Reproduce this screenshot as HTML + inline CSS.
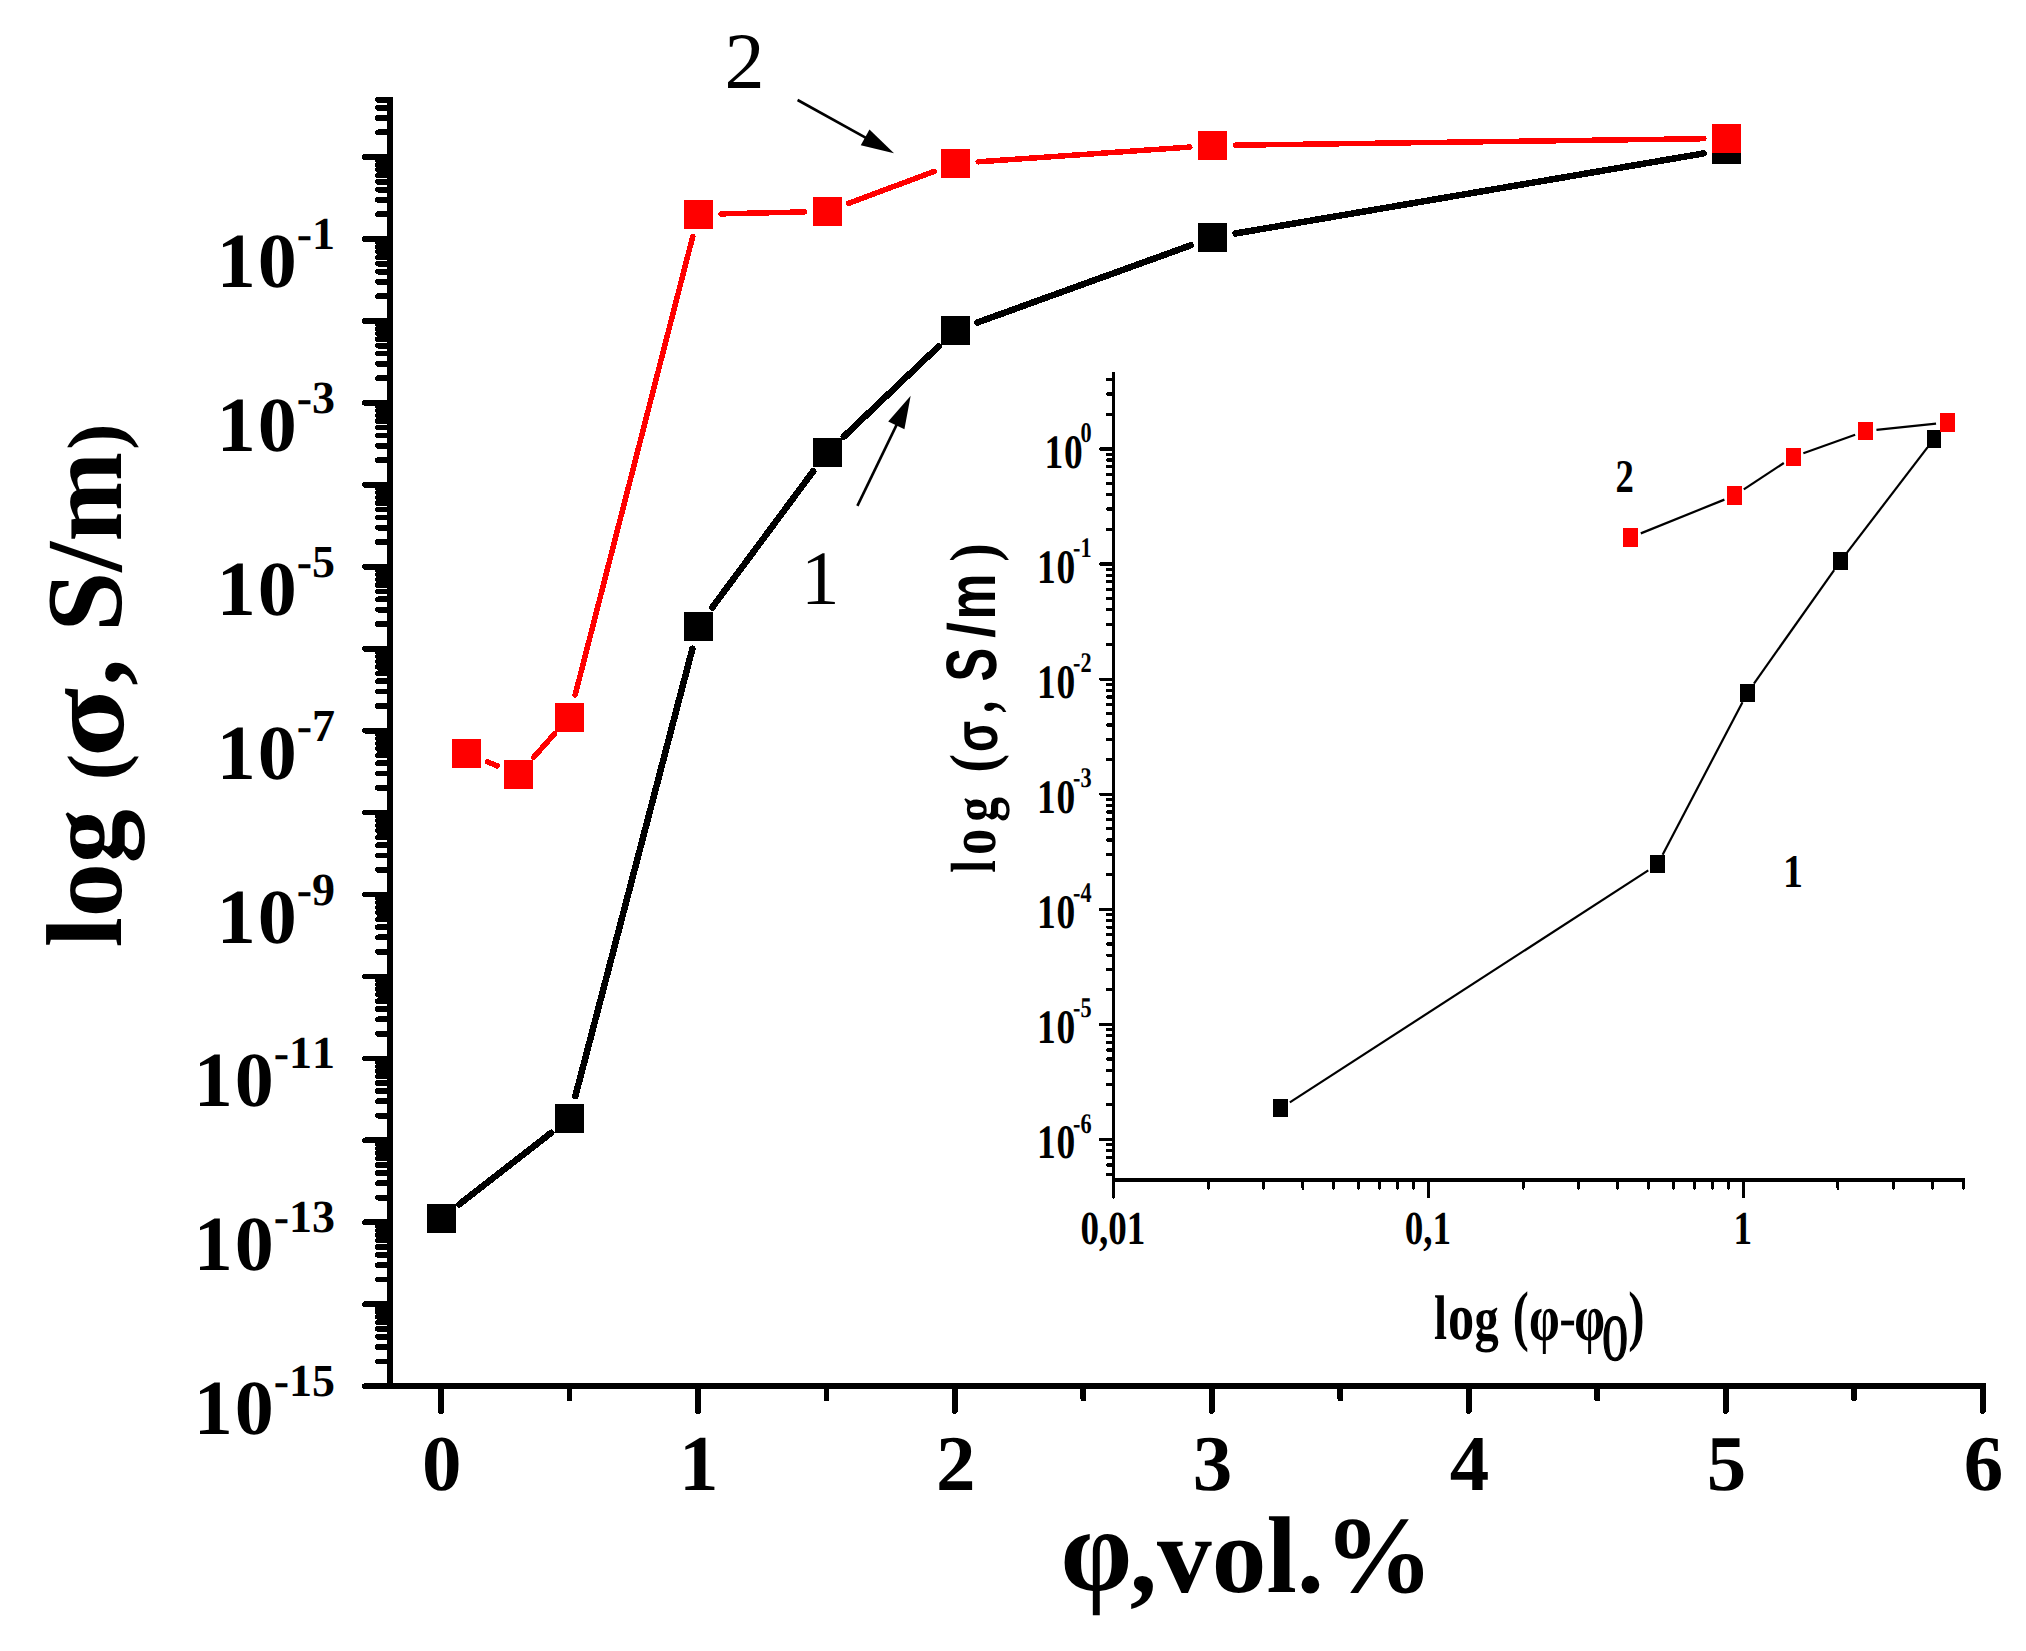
<!DOCTYPE html>
<html lang="en">
<head>
<meta charset="utf-8">
<title>Conductivity vs filler content</title>
<style>
html,body{margin:0;padding:0;background:#fff;}
body{width:2026px;height:1651px;overflow:hidden;}
svg{display:block;}
text{font-family:'Liberation Serif', 'DejaVu Serif', serif;fill:#000;font-kerning:none;}
.b{font-weight:bold;}
.sans{font-family:'Liberation Sans', 'DejaVu Sans', sans-serif;}
</style>
</head>
<body>
<svg width="2026" height="1651" viewBox="0 0 2026 1651" shape-rendering="crispEdges" text-rendering="geometricPrecision">
<rect x="0" y="0" width="2026" height="1651" fill="#fff"/>

<g id="main-axes" stroke="#000" fill="none">
<line x1="390.0" y1="96.79" x2="390.0" y2="1389.10" stroke-width="6.2"/>
<line x1="386.90" y1="1386.0" x2="1985.5" y2="1386.0" stroke-width="6.2"/>
<g stroke-width="5.8" stroke-linecap="round">
<line x1="390.0" y1="1386.16" x2="365.0" y2="1386.16"/>
<line x1="390.0" y1="1361.49" x2="378.0" y2="1361.49"/>
<line x1="390.0" y1="1347.06" x2="378.0" y2="1347.06"/>
<line x1="390.0" y1="1336.83" x2="378.0" y2="1336.83"/>
<line x1="390.0" y1="1328.89" x2="378.0" y2="1328.89"/>
<line x1="390.0" y1="1322.40" x2="378.0" y2="1322.40"/>
<line x1="390.0" y1="1316.91" x2="378.0" y2="1316.91"/>
<line x1="390.0" y1="1312.16" x2="378.0" y2="1312.16"/>
<line x1="390.0" y1="1307.97" x2="378.0" y2="1307.97"/>
<line x1="390.0" y1="1304.22" x2="365.0" y2="1304.22"/>
<line x1="390.0" y1="1279.55" x2="378.0" y2="1279.55"/>
<line x1="390.0" y1="1265.12" x2="378.0" y2="1265.12"/>
<line x1="390.0" y1="1254.89" x2="378.0" y2="1254.89"/>
<line x1="390.0" y1="1246.95" x2="378.0" y2="1246.95"/>
<line x1="390.0" y1="1240.46" x2="378.0" y2="1240.46"/>
<line x1="390.0" y1="1234.97" x2="378.0" y2="1234.97"/>
<line x1="390.0" y1="1230.22" x2="378.0" y2="1230.22"/>
<line x1="390.0" y1="1226.03" x2="378.0" y2="1226.03"/>
<line x1="390.0" y1="1222.28" x2="365.0" y2="1222.28"/>
<line x1="390.0" y1="1197.61" x2="378.0" y2="1197.61"/>
<line x1="390.0" y1="1183.18" x2="378.0" y2="1183.18"/>
<line x1="390.0" y1="1172.95" x2="378.0" y2="1172.95"/>
<line x1="390.0" y1="1165.01" x2="378.0" y2="1165.01"/>
<line x1="390.0" y1="1158.52" x2="378.0" y2="1158.52"/>
<line x1="390.0" y1="1153.03" x2="378.0" y2="1153.03"/>
<line x1="390.0" y1="1148.28" x2="378.0" y2="1148.28"/>
<line x1="390.0" y1="1144.09" x2="378.0" y2="1144.09"/>
<line x1="390.0" y1="1140.34" x2="365.0" y2="1140.34"/>
<line x1="390.0" y1="1115.67" x2="378.0" y2="1115.67"/>
<line x1="390.0" y1="1101.24" x2="378.0" y2="1101.24"/>
<line x1="390.0" y1="1091.01" x2="378.0" y2="1091.01"/>
<line x1="390.0" y1="1083.07" x2="378.0" y2="1083.07"/>
<line x1="390.0" y1="1076.58" x2="378.0" y2="1076.58"/>
<line x1="390.0" y1="1071.09" x2="378.0" y2="1071.09"/>
<line x1="390.0" y1="1066.34" x2="378.0" y2="1066.34"/>
<line x1="390.0" y1="1062.15" x2="378.0" y2="1062.15"/>
<line x1="390.0" y1="1058.40" x2="365.0" y2="1058.40"/>
<line x1="390.0" y1="1033.73" x2="378.0" y2="1033.73"/>
<line x1="390.0" y1="1019.30" x2="378.0" y2="1019.30"/>
<line x1="390.0" y1="1009.07" x2="378.0" y2="1009.07"/>
<line x1="390.0" y1="1001.13" x2="378.0" y2="1001.13"/>
<line x1="390.0" y1="994.64" x2="378.0" y2="994.64"/>
<line x1="390.0" y1="989.15" x2="378.0" y2="989.15"/>
<line x1="390.0" y1="984.40" x2="378.0" y2="984.40"/>
<line x1="390.0" y1="980.21" x2="378.0" y2="980.21"/>
<line x1="390.0" y1="976.46" x2="365.0" y2="976.46"/>
<line x1="390.0" y1="951.79" x2="378.0" y2="951.79"/>
<line x1="390.0" y1="937.36" x2="378.0" y2="937.36"/>
<line x1="390.0" y1="927.13" x2="378.0" y2="927.13"/>
<line x1="390.0" y1="919.19" x2="378.0" y2="919.19"/>
<line x1="390.0" y1="912.70" x2="378.0" y2="912.70"/>
<line x1="390.0" y1="907.21" x2="378.0" y2="907.21"/>
<line x1="390.0" y1="902.46" x2="378.0" y2="902.46"/>
<line x1="390.0" y1="898.27" x2="378.0" y2="898.27"/>
<line x1="390.0" y1="894.52" x2="365.0" y2="894.52"/>
<line x1="390.0" y1="869.85" x2="378.0" y2="869.85"/>
<line x1="390.0" y1="855.42" x2="378.0" y2="855.42"/>
<line x1="390.0" y1="845.19" x2="378.0" y2="845.19"/>
<line x1="390.0" y1="837.25" x2="378.0" y2="837.25"/>
<line x1="390.0" y1="830.76" x2="378.0" y2="830.76"/>
<line x1="390.0" y1="825.27" x2="378.0" y2="825.27"/>
<line x1="390.0" y1="820.52" x2="378.0" y2="820.52"/>
<line x1="390.0" y1="816.33" x2="378.0" y2="816.33"/>
<line x1="390.0" y1="812.58" x2="365.0" y2="812.58"/>
<line x1="390.0" y1="787.91" x2="378.0" y2="787.91"/>
<line x1="390.0" y1="773.48" x2="378.0" y2="773.48"/>
<line x1="390.0" y1="763.25" x2="378.0" y2="763.25"/>
<line x1="390.0" y1="755.31" x2="378.0" y2="755.31"/>
<line x1="390.0" y1="748.82" x2="378.0" y2="748.82"/>
<line x1="390.0" y1="743.33" x2="378.0" y2="743.33"/>
<line x1="390.0" y1="738.58" x2="378.0" y2="738.58"/>
<line x1="390.0" y1="734.39" x2="378.0" y2="734.39"/>
<line x1="390.0" y1="730.64" x2="365.0" y2="730.64"/>
<line x1="390.0" y1="705.97" x2="378.0" y2="705.97"/>
<line x1="390.0" y1="691.54" x2="378.0" y2="691.54"/>
<line x1="390.0" y1="681.31" x2="378.0" y2="681.31"/>
<line x1="390.0" y1="673.37" x2="378.0" y2="673.37"/>
<line x1="390.0" y1="666.88" x2="378.0" y2="666.88"/>
<line x1="390.0" y1="661.39" x2="378.0" y2="661.39"/>
<line x1="390.0" y1="656.64" x2="378.0" y2="656.64"/>
<line x1="390.0" y1="652.45" x2="378.0" y2="652.45"/>
<line x1="390.0" y1="648.70" x2="365.0" y2="648.70"/>
<line x1="390.0" y1="624.03" x2="378.0" y2="624.03"/>
<line x1="390.0" y1="609.60" x2="378.0" y2="609.60"/>
<line x1="390.0" y1="599.37" x2="378.0" y2="599.37"/>
<line x1="390.0" y1="591.43" x2="378.0" y2="591.43"/>
<line x1="390.0" y1="584.94" x2="378.0" y2="584.94"/>
<line x1="390.0" y1="579.45" x2="378.0" y2="579.45"/>
<line x1="390.0" y1="574.70" x2="378.0" y2="574.70"/>
<line x1="390.0" y1="570.51" x2="378.0" y2="570.51"/>
<line x1="390.0" y1="566.76" x2="365.0" y2="566.76"/>
<line x1="390.0" y1="542.09" x2="378.0" y2="542.09"/>
<line x1="390.0" y1="527.66" x2="378.0" y2="527.66"/>
<line x1="390.0" y1="517.43" x2="378.0" y2="517.43"/>
<line x1="390.0" y1="509.49" x2="378.0" y2="509.49"/>
<line x1="390.0" y1="503.00" x2="378.0" y2="503.00"/>
<line x1="390.0" y1="497.51" x2="378.0" y2="497.51"/>
<line x1="390.0" y1="492.76" x2="378.0" y2="492.76"/>
<line x1="390.0" y1="488.57" x2="378.0" y2="488.57"/>
<line x1="390.0" y1="484.82" x2="365.0" y2="484.82"/>
<line x1="390.0" y1="460.15" x2="378.0" y2="460.15"/>
<line x1="390.0" y1="445.72" x2="378.0" y2="445.72"/>
<line x1="390.0" y1="435.49" x2="378.0" y2="435.49"/>
<line x1="390.0" y1="427.55" x2="378.0" y2="427.55"/>
<line x1="390.0" y1="421.06" x2="378.0" y2="421.06"/>
<line x1="390.0" y1="415.57" x2="378.0" y2="415.57"/>
<line x1="390.0" y1="410.82" x2="378.0" y2="410.82"/>
<line x1="390.0" y1="406.63" x2="378.0" y2="406.63"/>
<line x1="390.0" y1="402.88" x2="365.0" y2="402.88"/>
<line x1="390.0" y1="378.21" x2="378.0" y2="378.21"/>
<line x1="390.0" y1="363.78" x2="378.0" y2="363.78"/>
<line x1="390.0" y1="353.55" x2="378.0" y2="353.55"/>
<line x1="390.0" y1="345.61" x2="378.0" y2="345.61"/>
<line x1="390.0" y1="339.12" x2="378.0" y2="339.12"/>
<line x1="390.0" y1="333.63" x2="378.0" y2="333.63"/>
<line x1="390.0" y1="328.88" x2="378.0" y2="328.88"/>
<line x1="390.0" y1="324.69" x2="378.0" y2="324.69"/>
<line x1="390.0" y1="320.94" x2="365.0" y2="320.94"/>
<line x1="390.0" y1="296.27" x2="378.0" y2="296.27"/>
<line x1="390.0" y1="281.84" x2="378.0" y2="281.84"/>
<line x1="390.0" y1="271.61" x2="378.0" y2="271.61"/>
<line x1="390.0" y1="263.67" x2="378.0" y2="263.67"/>
<line x1="390.0" y1="257.18" x2="378.0" y2="257.18"/>
<line x1="390.0" y1="251.69" x2="378.0" y2="251.69"/>
<line x1="390.0" y1="246.94" x2="378.0" y2="246.94"/>
<line x1="390.0" y1="242.75" x2="378.0" y2="242.75"/>
<line x1="390.0" y1="239.00" x2="365.0" y2="239.00"/>
<line x1="390.0" y1="214.33" x2="378.0" y2="214.33"/>
<line x1="390.0" y1="199.90" x2="378.0" y2="199.90"/>
<line x1="390.0" y1="189.67" x2="378.0" y2="189.67"/>
<line x1="390.0" y1="181.73" x2="378.0" y2="181.73"/>
<line x1="390.0" y1="175.24" x2="378.0" y2="175.24"/>
<line x1="390.0" y1="169.75" x2="378.0" y2="169.75"/>
<line x1="390.0" y1="165.00" x2="378.0" y2="165.00"/>
<line x1="390.0" y1="160.81" x2="378.0" y2="160.81"/>
<line x1="390.0" y1="157.06" x2="365.0" y2="157.06"/>
<line x1="390.0" y1="132.39" x2="378.0" y2="132.39"/>
<line x1="390.0" y1="117.96" x2="378.0" y2="117.96"/>
<line x1="390.0" y1="107.73" x2="378.0" y2="107.73"/>
<line x1="390.0" y1="99.79" x2="378.0" y2="99.79"/>
<line x1="441.00" y1="1386.0" x2="441.00" y2="1411.0"/>
<line x1="569.48" y1="1386.0" x2="569.48" y2="1398.5"/>
<line x1="697.95" y1="1386.0" x2="697.95" y2="1411.0"/>
<line x1="826.42" y1="1386.0" x2="826.42" y2="1398.5"/>
<line x1="954.90" y1="1386.0" x2="954.90" y2="1411.0"/>
<line x1="1083.38" y1="1386.0" x2="1083.38" y2="1398.5"/>
<line x1="1211.85" y1="1386.0" x2="1211.85" y2="1411.0"/>
<line x1="1340.32" y1="1386.0" x2="1340.32" y2="1398.5"/>
<line x1="1468.80" y1="1386.0" x2="1468.80" y2="1411.0"/>
<line x1="1597.27" y1="1386.0" x2="1597.27" y2="1398.5"/>
<line x1="1725.75" y1="1386.0" x2="1725.75" y2="1411.0"/>
<line x1="1854.22" y1="1386.0" x2="1854.22" y2="1398.5"/>
<line x1="1982.70" y1="1386.0" x2="1982.70" y2="1411.0"/>
</g>
</g>
<g id="ylabels" class="b" text-anchor="end">
<text x="335" y="1434.2" font-size="78">1<tspan dx="2">0</tspan><tspan dy="-38" font-size="46">-15</tspan></text>
<text x="335" y="1270.3" font-size="78">1<tspan dx="2">0</tspan><tspan dy="-38" font-size="46">-13</tspan></text>
<text x="335" y="1106.4" font-size="78">1<tspan dx="2">0</tspan><tspan dy="-38" font-size="46">-11</tspan></text>
<text x="335" y="942.5" font-size="78">1<tspan dx="2">0</tspan><tspan dy="-38" font-size="46">-9</tspan></text>
<text x="335" y="778.6" font-size="78">1<tspan dx="2">0</tspan><tspan dy="-38" font-size="46">-7</tspan></text>
<text x="335" y="614.8" font-size="78">1<tspan dx="2">0</tspan><tspan dy="-38" font-size="46">-5</tspan></text>
<text x="335" y="450.9" font-size="78">1<tspan dx="2">0</tspan><tspan dy="-38" font-size="46">-3</tspan></text>
<text x="335" y="287.0" font-size="78">1<tspan dx="2">0</tspan><tspan dy="-38" font-size="46">-1</tspan></text>
</g>
<g id="xlabels" class="b" text-anchor="middle">
<text x="441.8" y="1490.3" font-size="79">0</text>
<text x="698.8" y="1490.3" font-size="79">1</text>
<text x="955.7" y="1490.3" font-size="79">2</text>
<text x="1212.6" y="1490.3" font-size="79">3</text>
<text x="1469.6" y="1490.3" font-size="79">4</text>
<text x="1726.5" y="1490.3" font-size="79">5</text>
<text x="1983.5" y="1490.3" font-size="79">6</text>
</g>
<g id="ytitle" class="b" transform="translate(120.7,947.35) rotate(-90)" font-size="108">
<text x="0" y="0">log</text>
<text x="167" y="1" font-size="79">(</text>
<text transform="translate(190,2.6) scale(1.185,1.03)">σ</text>
<text x="261.5" y="0">, S/m</text>
<text x="497.5" y="1" font-size="79">)</text>
</g>
<g id="xtitle" class="b">
<text  font-weight="bold" font-size="100" transform="translate(1060.60,1590.39) scale(1.1496,1.1891)">φ</text>
<text font-size="109.3" x="1129.8" y="1591.5">,vol.%</text>
</g>
<g id="series1">
<line x1="459.34" y1="1204.31" x2="551.16" y2="1132.79" stroke="#000" stroke-width="6.5" stroke-linecap="round"/>
<line x1="575.39" y1="1096.01" x2="692.41" y2="648.79" stroke="#000" stroke-width="6.5" stroke-linecap="round"/>
<line x1="712.14" y1="607.62" x2="813.16" y2="471.28" stroke="#000" stroke-width="6.5" stroke-linecap="round"/>
<line x1="843.84" y1="436.57" x2="938.46" y2="346.53" stroke="#000" stroke-width="6.5" stroke-linecap="round"/>
<line x1="977.16" y1="322.59" x2="1190.74" y2="245.31" stroke="#000" stroke-width="6.5" stroke-linecap="round"/>
<line x1="1235.52" y1="233.48" x2="1703.68" y2="153.42" stroke="#000" stroke-width="6.5" stroke-linecap="round"/>
<rect x="426.50" y="1204.10" width="29" height="29" fill="#000"/>
<rect x="555.00" y="1104.00" width="29" height="29" fill="#000"/>
<rect x="683.80" y="611.80" width="29" height="29" fill="#000"/>
<rect x="812.50" y="438.10" width="29" height="29" fill="#000"/>
<rect x="940.80" y="316.00" width="29" height="29" fill="#000"/>
<rect x="1198.10" y="222.90" width="29" height="29" fill="#000"/>
<rect x="1712.10" y="135.00" width="29" height="29" fill="#000"/>
</g>
<g id="series2">
<line x1="487.56" y1="761.90" x2="497.34" y2="765.90" stroke="#f00" stroke-width="5.5" stroke-linecap="round"/>
<line x1="533.51" y1="757.49" x2="554.39" y2="734.01" stroke="#f00" stroke-width="5.5" stroke-linecap="round"/>
<line x1="575.15" y1="694.96" x2="692.75" y2="236.44" stroke="#f00" stroke-width="5.5" stroke-linecap="round"/>
<line x1="721.14" y1="213.87" x2="804.36" y2="211.93" stroke="#f00" stroke-width="5.5" stroke-linecap="round"/>
<line x1="848.41" y1="203.43" x2="934.19" y2="171.37" stroke="#f00" stroke-width="5.5" stroke-linecap="round"/>
<line x1="978.20" y1="161.82" x2="1189.90" y2="147.08" stroke="#f00" stroke-width="5.5" stroke-linecap="round"/>
<line x1="1235.35" y1="145.19" x2="1703.85" y2="138.71" stroke="#f00" stroke-width="5.5" stroke-linecap="round"/>
<rect x="452.00" y="738.80" width="29" height="29" fill="#f00"/>
<rect x="503.90" y="760.00" width="29" height="29" fill="#f00"/>
<rect x="555.00" y="702.50" width="29" height="29" fill="#f00"/>
<rect x="683.90" y="199.90" width="29" height="29" fill="#f00"/>
<rect x="812.60" y="196.90" width="29" height="29" fill="#f00"/>
<rect x="941.00" y="148.90" width="29" height="29" fill="#f00"/>
<rect x="1198.10" y="131.00" width="29" height="29" fill="#f00"/>
<rect x="1712.10" y="123.90" width="29" height="29" fill="#f00"/>
</g>
<g id="annot" shape-rendering="geometricPrecision">
<line x1="797.60" y1="100.00" x2="866.87" y2="138.30" stroke="#000" stroke-width="2.6"/>
<polygon points="894.00,153.30 860.77,145.21 869.48,129.46" fill="#000"/>
<line x1="857.40" y1="505.90" x2="897.20" y2="423.61" stroke="#000" stroke-width="2.6"/>
<polygon points="910.70,395.70 904.43,429.33 888.23,421.49" fill="#000"/>
</g>
<text font-size="80" x="724.5" y="88">2</text>
<text font-size="77" x="801" y="604">1</text>
<g id="inset">
<g stroke="#000" fill="none" stroke-linecap="round">
<line x1="1113.4" y1="373.2" x2="1113.4" y2="1197.0" stroke-width="3.3"/>
<line x1="1113.4" y1="1180.0" x2="1963.4" y2="1180.0" stroke-width="4"/>
<g stroke-width="3.2">
<line x1="1113.4" y1="1139.50" x2="1100.4" y2="1139.50"/>
<line x1="1113.4" y1="1024.40" x2="1100.4" y2="1024.40"/>
<line x1="1113.4" y1="909.30" x2="1100.4" y2="909.30"/>
<line x1="1113.4" y1="794.20" x2="1100.4" y2="794.20"/>
<line x1="1113.4" y1="679.10" x2="1100.4" y2="679.10"/>
<line x1="1113.4" y1="564.00" x2="1100.4" y2="564.00"/>
<line x1="1113.4" y1="448.90" x2="1100.4" y2="448.90"/>
<line x1="1113.4" y1="1174.15" x2="1107.2" y2="1174.15"/>
<line x1="1113.4" y1="1165.03" x2="1107.2" y2="1165.03"/>
<line x1="1113.4" y1="1157.33" x2="1107.2" y2="1157.33"/>
<line x1="1113.4" y1="1150.65" x2="1107.2" y2="1150.65"/>
<line x1="1113.4" y1="1144.77" x2="1107.2" y2="1144.77"/>
<line x1="1113.4" y1="1104.85" x2="1107.2" y2="1104.85"/>
<line x1="1113.4" y1="1084.58" x2="1107.2" y2="1084.58"/>
<line x1="1113.4" y1="1070.20" x2="1107.2" y2="1070.20"/>
<line x1="1113.4" y1="1059.05" x2="1107.2" y2="1059.05"/>
<line x1="1113.4" y1="1049.93" x2="1107.2" y2="1049.93"/>
<line x1="1113.4" y1="1042.23" x2="1107.2" y2="1042.23"/>
<line x1="1113.4" y1="1035.55" x2="1107.2" y2="1035.55"/>
<line x1="1113.4" y1="1029.67" x2="1107.2" y2="1029.67"/>
<line x1="1113.4" y1="989.75" x2="1107.2" y2="989.75"/>
<line x1="1113.4" y1="969.48" x2="1107.2" y2="969.48"/>
<line x1="1113.4" y1="955.10" x2="1107.2" y2="955.10"/>
<line x1="1113.4" y1="943.95" x2="1107.2" y2="943.95"/>
<line x1="1113.4" y1="934.83" x2="1107.2" y2="934.83"/>
<line x1="1113.4" y1="927.13" x2="1107.2" y2="927.13"/>
<line x1="1113.4" y1="920.45" x2="1107.2" y2="920.45"/>
<line x1="1113.4" y1="914.57" x2="1107.2" y2="914.57"/>
<line x1="1113.4" y1="874.65" x2="1107.2" y2="874.65"/>
<line x1="1113.4" y1="854.38" x2="1107.2" y2="854.38"/>
<line x1="1113.4" y1="840.00" x2="1107.2" y2="840.00"/>
<line x1="1113.4" y1="828.85" x2="1107.2" y2="828.85"/>
<line x1="1113.4" y1="819.73" x2="1107.2" y2="819.73"/>
<line x1="1113.4" y1="812.03" x2="1107.2" y2="812.03"/>
<line x1="1113.4" y1="805.35" x2="1107.2" y2="805.35"/>
<line x1="1113.4" y1="799.47" x2="1107.2" y2="799.47"/>
<line x1="1113.4" y1="759.55" x2="1107.2" y2="759.55"/>
<line x1="1113.4" y1="739.28" x2="1107.2" y2="739.28"/>
<line x1="1113.4" y1="724.90" x2="1107.2" y2="724.90"/>
<line x1="1113.4" y1="713.75" x2="1107.2" y2="713.75"/>
<line x1="1113.4" y1="704.63" x2="1107.2" y2="704.63"/>
<line x1="1113.4" y1="696.93" x2="1107.2" y2="696.93"/>
<line x1="1113.4" y1="690.25" x2="1107.2" y2="690.25"/>
<line x1="1113.4" y1="684.37" x2="1107.2" y2="684.37"/>
<line x1="1113.4" y1="644.45" x2="1107.2" y2="644.45"/>
<line x1="1113.4" y1="624.18" x2="1107.2" y2="624.18"/>
<line x1="1113.4" y1="609.80" x2="1107.2" y2="609.80"/>
<line x1="1113.4" y1="598.65" x2="1107.2" y2="598.65"/>
<line x1="1113.4" y1="589.53" x2="1107.2" y2="589.53"/>
<line x1="1113.4" y1="581.83" x2="1107.2" y2="581.83"/>
<line x1="1113.4" y1="575.15" x2="1107.2" y2="575.15"/>
<line x1="1113.4" y1="569.27" x2="1107.2" y2="569.27"/>
<line x1="1113.4" y1="529.35" x2="1107.2" y2="529.35"/>
<line x1="1113.4" y1="509.08" x2="1107.2" y2="509.08"/>
<line x1="1113.4" y1="494.70" x2="1107.2" y2="494.70"/>
<line x1="1113.4" y1="483.55" x2="1107.2" y2="483.55"/>
<line x1="1113.4" y1="474.43" x2="1107.2" y2="474.43"/>
<line x1="1113.4" y1="466.73" x2="1107.2" y2="466.73"/>
<line x1="1113.4" y1="460.05" x2="1107.2" y2="460.05"/>
<line x1="1113.4" y1="454.17" x2="1107.2" y2="454.17"/>
<line x1="1113.4" y1="414.25" x2="1107.2" y2="414.25"/>
<line x1="1113.4" y1="393.98" x2="1107.2" y2="393.98"/>
<line x1="1113.4" y1="379.60" x2="1107.2" y2="379.60"/>
</g><g stroke-width="3">
<line x1="1208.19" y1="1180.0" x2="1208.19" y2="1188.2"/>
<line x1="1263.65" y1="1180.0" x2="1263.65" y2="1188.2"/>
<line x1="1302.99" y1="1180.0" x2="1302.99" y2="1188.2"/>
<line x1="1333.51" y1="1180.0" x2="1333.51" y2="1188.2"/>
<line x1="1358.44" y1="1180.0" x2="1358.44" y2="1188.2"/>
<line x1="1379.52" y1="1180.0" x2="1379.52" y2="1188.2"/>
<line x1="1397.78" y1="1180.0" x2="1397.78" y2="1188.2"/>
<line x1="1413.89" y1="1180.0" x2="1413.89" y2="1188.2"/>
<line x1="1428.30" y1="1180.0" x2="1428.30" y2="1197.0"/>
<line x1="1523.09" y1="1180.0" x2="1523.09" y2="1188.2"/>
<line x1="1578.55" y1="1180.0" x2="1578.55" y2="1188.2"/>
<line x1="1617.89" y1="1180.0" x2="1617.89" y2="1188.2"/>
<line x1="1648.41" y1="1180.0" x2="1648.41" y2="1188.2"/>
<line x1="1673.34" y1="1180.0" x2="1673.34" y2="1188.2"/>
<line x1="1694.42" y1="1180.0" x2="1694.42" y2="1188.2"/>
<line x1="1712.68" y1="1180.0" x2="1712.68" y2="1188.2"/>
<line x1="1728.79" y1="1180.0" x2="1728.79" y2="1188.2"/>
<line x1="1743.20" y1="1180.0" x2="1743.20" y2="1197.0"/>
<line x1="1837.99" y1="1180.0" x2="1837.99" y2="1188.2"/>
<line x1="1893.45" y1="1180.0" x2="1893.45" y2="1188.2"/>
<line x1="1932.79" y1="1180.0" x2="1932.79" y2="1188.2"/>
<line x1="1963.31" y1="1180.0" x2="1963.31" y2="1188.2"/>
</g></g>
<text transform="translate(1091.6,1158.1) scale(0.78,1)" text-anchor="end" font-size="48" class="b">1<tspan dx="1">0</tspan><tspan dy="-25.6" dx="-2.8" font-size="28.5">-6</tspan></text>
<text transform="translate(1091.6,1043.0) scale(0.78,1)" text-anchor="end" font-size="48" class="b">1<tspan dx="1">0</tspan><tspan dy="-25.6" dx="-2.8" font-size="28.5">-5</tspan></text>
<text transform="translate(1091.6,927.9) scale(0.78,1)" text-anchor="end" font-size="48" class="b">1<tspan dx="1">0</tspan><tspan dy="-25.6" dx="-2.8" font-size="28.5">-4</tspan></text>
<text transform="translate(1091.6,812.8) scale(0.78,1)" text-anchor="end" font-size="48" class="b">1<tspan dx="1">0</tspan><tspan dy="-25.6" dx="-2.8" font-size="28.5">-3</tspan></text>
<text transform="translate(1091.6,697.7) scale(0.78,1)" text-anchor="end" font-size="48" class="b">1<tspan dx="1">0</tspan><tspan dy="-25.6" dx="-2.8" font-size="28.5">-2</tspan></text>
<text transform="translate(1091.6,582.6) scale(0.78,1)" text-anchor="end" font-size="48" class="b">1<tspan dx="1">0</tspan><tspan dy="-25.6" dx="-2.8" font-size="28.5">-1</tspan></text>
<text transform="translate(1091.6,467.5) scale(0.78,1)" text-anchor="end" font-size="48" class="b">1<tspan dx="1">0</tspan><tspan dy="-25.6" dx="-2.8" font-size="28.5">0</tspan></text>
<text transform="translate(1112.9,1243.5) scale(0.78,1)" text-anchor="middle" font-size="47.5" class="b">0,01</text>
<text transform="translate(1427.8,1243.5) scale(0.78,1)" text-anchor="middle" font-size="47.5" class="b">0,1</text>
<text transform="translate(1742.7,1243.5) scale(0.78,1)" text-anchor="middle" font-size="47.5" class="b">1</text>
<g id="inset-xtitle">
<text  font-weight="bold" font-size="100" transform="translate(1433.89,1338.90) scale(0.4685,0.6298)">l</text>
<text  font-weight="bold" font-size="100" transform="translate(1447.91,1339.15) scale(0.5238,0.6653)">o</text>
<text  font-weight="bold" font-size="100" transform="translate(1474.42,1339.34) scale(0.4851,0.6145)">g</text>
<text  font-weight="bold" font-size="100" transform="translate(1512.68,1337.58) scale(0.4828,0.6727)">(</text>
<text  font-weight="bold" font-size="100" transform="translate(1529.05,1339.61) scale(0.4917,0.6617)">φ</text>
<text  font-weight="bold" font-size="100" transform="translate(1559.17,1336.27) scale(0.5005,0.5532)">-</text>
<text  font-weight="bold" font-size="100" transform="translate(1574.34,1339.61) scale(0.4935,0.6617)">φ</text>
<text  font-weight="normal" font-size="100" stroke="#000" stroke-width="2" transform="translate(1601.91,1360.26) scale(0.5238,0.6506)">0</text>
<text  font-weight="bold" font-size="100" transform="translate(1628.32,1337.58) scale(0.4906,0.6727)">)</text>
</g>
<g id="inset-ytitle" transform="translate(995.3,872.5) rotate(-90)">
<text  font-weight="bold" font-size="100" transform="translate(-0.28,-0.20) scale(0.4519,0.6385)">l</text>
<text  font-weight="bold" font-size="100" transform="translate(17.40,0.05) scale(0.5262,0.6674)">o</text>
<text  font-weight="bold" font-size="100" transform="translate(50.69,0.35) scale(0.4958,0.6186)">g</text>
<text  font-weight="bold" font-size="100" transform="translate(99.82,0.08) scale(0.5646,0.6540)">(</text>
<text class="sans" font-weight="bold" font-size="100" transform="translate(120.53,1.30) scale(0.4540,0.6189)">σ</text>
<text  font-weight="bold" font-size="100" transform="translate(159.77,-0.64) scale(0.4780,0.7324)">,</text>
<text class="sans" font-weight="bold" font-size="100" transform="translate(190.95,0.30) scale(0.5041,0.7147)">S</text>
<text class="sans" font-weight="bold" font-size="100" transform="translate(234.85,-1.21) scale(0.5614,0.6540)">/</text>
<text class="sans" font-weight="bold" font-size="100" transform="translate(253.09,0.10) scale(0.5176,0.6796)">m</text>
<text  font-weight="bold" font-size="100" transform="translate(310.71,0.08) scale(0.5568,0.6540)">)</text>
</g>
<g shape-rendering="geometricPrecision">
<line x1="1289.83" y1="1102.42" x2="1648.27" y2="870.38" stroke="#000" stroke-width="2.2" stroke-linecap="butt"/>
<line x1="1662.61" y1="854.66" x2="1742.49" y2="702.24" stroke="#000" stroke-width="2.2" stroke-linecap="butt"/>
<line x1="1753.95" y1="683.52" x2="1834.15" y2="570.08" stroke="#000" stroke-width="2.2" stroke-linecap="butt"/>
<line x1="1847.19" y1="552.37" x2="1927.51" y2="447.43" stroke="#000" stroke-width="2.2" stroke-linecap="butt"/>
<line x1="1640.80" y1="533.38" x2="1724.40" y2="499.62" stroke="#000" stroke-width="2.2" stroke-linecap="butt"/>
<line x1="1743.78" y1="489.43" x2="1783.82" y2="462.97" stroke="#000" stroke-width="2.2" stroke-linecap="butt"/>
<line x1="1803.36" y1="453.20" x2="1855.14" y2="434.70" stroke="#000" stroke-width="2.2" stroke-linecap="butt"/>
<line x1="1876.44" y1="429.85" x2="1936.06" y2="423.55" stroke="#000" stroke-width="2.2" stroke-linecap="butt"/>
</g>
<rect x="1273.35" y="1099.40" width="14.5" height="18" fill="#000"/>
<rect x="1650.25" y="855.40" width="14.5" height="18" fill="#000"/>
<rect x="1740.35" y="683.50" width="14.5" height="18" fill="#000"/>
<rect x="1833.25" y="552.10" width="14.5" height="18" fill="#000"/>
<rect x="1926.95" y="429.70" width="14.5" height="18" fill="#000"/>
<rect x="1623.10" y="528.25" width="15" height="18.5" fill="#f00"/>
<rect x="1727.10" y="486.25" width="15" height="18.5" fill="#f00"/>
<rect x="1785.50" y="447.65" width="15" height="18.5" fill="#f00"/>
<rect x="1858.00" y="421.75" width="15" height="18.5" fill="#f00"/>
<rect x="1939.50" y="413.15" width="15" height="18.5" fill="#f00"/>
<text transform="translate(1615.5,492.3) scale(0.78,1)" text-anchor="start" font-size="47" class="b">2</text>
<text transform="translate(1783.0,887.3) scale(0.85,1)" text-anchor="start" font-size="47" class="b">1</text>
</g>
</svg>
</body>
</html>
